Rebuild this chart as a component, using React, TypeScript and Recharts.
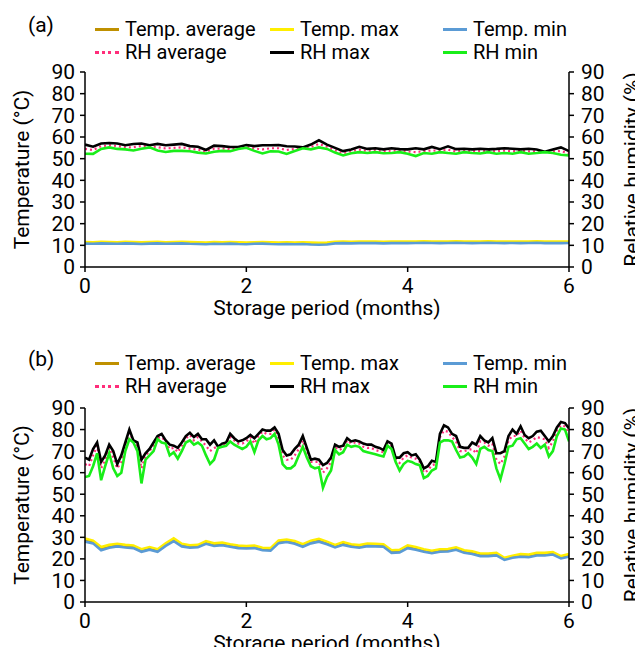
import React from 'react';
import { LineChart, Line, XAxis, YAxis } from 'recharts';

// ---------- Panel (a) : one reading every 0.1 month ----------
const tempAvgA = [11.1,11,11.2,11.1,11,11.2,11.1,11,11.1,11.2, 11,11.1,11.2,11.1,11,10.9,11.1,11,11.1,11, 10.9,11,11.1,11,10.9,11,10.9,11,10.8,10.7, 10.8,11.2,11.3,11.2,11.3,11.4,11.3,11.2,11.3,11.4, 11.3,11.4,11.5,11.4,11.3,11.4,11.5,11.4,11.3,11.4, 11.5,11.4,11.3,11.4,11.3,11.4,11.5,11.3,11.4,11.3, 11.4];
const tempMaxA = [11.5,11.4,11.6,11.5,11.4,11.6,11.5,11.4,11.5,11.6, 11.4,11.5,11.6,11.5,11.4,11.3,11.5,11.4,11.5,11.4, 11.3,11.4,11.5,11.4,11.3,11.4,11.3,11.4,11.3,11.2, 11.3,11.6,11.7,11.6,11.7,11.8,11.7,11.6,11.7,11.8, 11.7,11.8,11.9,11.8,11.7,11.8,11.9,11.8,11.7,11.8, 11.9,11.8,11.7,11.8,11.7,11.8,11.9,11.7,11.8,11.7, 11.8];
const tempMinA = [10.8,10.7,10.9,10.8,10.7,10.9,10.8,10.6,10.8,10.9, 10.7,10.8,10.9,10.7,10.6,10.5,10.7,10.6,10.8,10.6, 10.5,10.7,10.8,10.6,10.5,10.6,10.5,10.6,10.4,10.3, 10.4,10.9,11,10.9,11,11.1,11,10.9,11,11.1, 11,11.1,11.2,11.1,11,11.1,11.2,11.1,11,11.1, 11.2,11.1,11,11.1,11,11.1,11.2,11,11.1,11, 11.1];
const rhAvgA = [54.5,54,55.8,56.2,55.8,55.2,55.3,55.8,55.7,55.3, 54.7,55,55.2,54.6,54.2,53.2,54.6,54.7,54.4,55, 55.6,54.7,54.3,54.8,54.8,54,54.5,55,55.4,56.8, 55.5,53.9,52.5,53.4,54.2,53.5,53.9,53.4,53.7,53.7, 53.3,53,53.5,53.8,53.7,54.1,53.3,53.8,53.4,53.5, 53.6,53.4,53.7,53.4,53.6,53.4,53.4,53.1,53.4,53.5, 52.5];
const rhMaxA = [56.5,55.5,57,57.2,57,56.2,56.8,57,56.2,56.8, 56.2,56.5,56.8,55.8,55.5,54,56,55.8,55.4,55.4, 56.3,55.8,56.2,56.2,56.3,55.7,55.6,55.2,56.5,58.5, 56.5,55,53.5,54.2,55.5,54.5,54.8,54.3,54.8,54.4, 54.3,54.8,54.3,55.4,54.4,55.7,54.4,54.6,54.3,54.6, 54.3,54.5,54.8,54.6,54.3,54.6,54.2,53.2,54.2,55.2, 53.5];
const rhMinA = [52.3,52.2,54.5,55.2,54.5,54.3,53.8,54.6,55.2,53.8, 53.1,53.6,53.6,53.4,52.8,52.4,53.2,53.6,53.4,54.5, 55,53.6,52.4,53.4,53.3,52.2,53.5,54.8,54.3,55.2, 54.5,52.8,51.5,52.5,53,52.6,53,52.5,52.6,53, 52.3,51.2,52.6,52.3,53,52.6,52.3,53,52.6,52.4, 53,52.3,52.6,52.3,53,52.3,52.6,53,52.6,51.8, 51.5];

// ---------- Panel (b) : temperature every 0.1 month, RH every 0.05 month ----------
const tempAvgB = [28.8,27.9,24.8,25.9,26.4,25.9,25.6,23.9,24.9,23.9, 26.6,28.9,26.4,25.8,26,27.6,26.6,27,26.2,25.6, 25.4,25.6,24.6,24.4,27.9,28.4,27.7,26.2,27.8,28.7, 27.4,25.9,27.2,26.2,25.8,26.5,26.4,26.2,23.4,23.6, 25.7,24.9,23.9,23.2,23.9,24,24.8,23.4,22.9,21.9, 21.9,22.2,20,21,21.6,21.4,22.2,22.2,22.6,20.8, 21.7];
const tempMaxB = [29.5,28.5,25.5,26.5,27,26.5,26.2,24.5,25.5,24.5, 27.2,29.5,27,26.3,26.5,28.2,27.2,27.6,26.8,26.2, 26,26.2,25.2,25,28.5,29,28.3,26.8,28.4,29.3, 28,26.5,27.8,26.8,26.4,27.1,27,26.8,24,24.2, 26.3,25.5,24.5,23.8,24.5,24.6,25.4,24,23.5,22.5, 22.5,22.8,20.5,21.5,22.2,22,22.8,22.8,23.2,21.3, 22.3];
const tempMinB = [28,27.2,24,25.2,25.8,25.3,25,23.3,24.3,23.3, 26,28.2,25.8,25.2,25.4,27,26,26.3,25.6,25, 24.8,25,24,23.8,27.3,27.8,27,25.6,27.2,28, 26.8,25.3,26.5,25.6,25.2,25.9,25.8,25.6,22.8,23, 25,24.2,23.3,22.6,23.3,23.4,24.2,22.8,22.3,21.3, 21.3,21.6,19.5,20.5,21,20.8,21.6,21.6,22,20.2, 21];
const rhAvgB = [64,63,68,72.5,62,66,71.5,67,62,65, 72.5,78.5,75,72.5,62,68,70,72.5,76,76.5, 74.5,71,71.5,69.5,72.5,76,77.5,75,76.5,74.5, 72.5,70,71.5,72,73,73.5,76.5,75,73.5,73.5, 74.5,
  76.5,73.5,77,79,78,78,80,76,68,66, 66,68,71,75,70,65,65,65,60,62, 65,72,70.5,71.5,75,73.5,74,73.5,72,71.5, 71.5,70.5,70,69.5,73.5,72.5,66,64.5,67,68,
  67,66.5,65,60,61,63.5,64,76.5,79.5,79, 76.5,74.5,70,70,70.5,71,69,74.5,74,72.5, 73.5,66,64,67.5,75,77,77,79.5,76,74, 75,76.5,76,75.5,71.5,74.5,79.5,82,81.5,78];
const rhMaxB = [67,66,71,74,65,68,73,70,64,68, 74,80,75,74,66,69,71,74,77,78, 75,73,72.5,71.5,74,77,78.5,76.5,78,75.5, 75.5,73,75,72,73.5,74,78,76,74.5,75, 76,
  77.5,76,78,80,79.5,79.5,81,78,70.5,68, 68.5,71,73,77,71.5,66,66.5,66,63.5,64.5, 67,73,72,72.5,76,74.5,75,74.5,73.5,73, 73,72,71.5,70.5,74.5,73.5,67,67,69,69.5,
  68,68.5,66,62,63,65.5,65,78,82,81, 78,77,72,71.5,71.5,74,73,77,75,74, 76,69,69,70,77,80,78,81.5,77.5,76, 77,79,79.5,77,74.5,77,81,83.5,83,80.5];
const rhMinB = [58,58.5,63,69,56.5,63,69,62,58.5,60, 70,75.5,74,70,55,66,68,70,75.5,74, 73.5,68,69.5,66.5,70,74,75,73,74,72.5, 68,64,66,71.5,72,72.5,74.5,73,72,71, 72,
  74.5,69.5,75,77,75.5,76,78,73,64,62, 62,63.5,68,72,67,63,62,62.5,53,58, 61,70.5,68.5,69.5,73,72,72.5,72,70,69.5, 69,68.5,68,67.5,72.5,71,65,61,64,65.5,
  65,64,63.5,57.5,58.5,61,62,74,75,75, 74.5,70.5,67,67.5,69,67,64,71,72,70.5, 70,62,57,64,72,72.5,75.5,76,73.5,71, 72,73.5,71.5,73,67.5,70,77,80.5,80,74.5];

const xTicks = [0, 2, 4, 6];
const yTicks = [0, 10, 20, 30, 40, 50, 60, 70, 80, 90];

const COLORS = {
  tempAvg: '#bf9000',
  tempMax: '#ffee00',
  tempMin: '#5b9bd5',
  rhAvg: '#ff2d7a',
  rhMax: '#000000',
  rhMin: '#19ee19',
};

const rowsA = tempAvgA.map((_, i) => ({
  m: i / 10,
  tempAvg: tempAvgA[i], tempMax: tempMaxA[i], tempMin: tempMinA[i],
  rhAvg: rhAvgA[i], rhMax: rhMaxA[i], rhMin: rhMinA[i],
}));

const rowsB = rhMaxB.map((_, i) => ({
  m: i / 20,
  tempAvg: i % 2 === 0 ? tempAvgB[i / 2] : null,
  tempMax: i % 2 === 0 ? tempMaxB[i / 2] : null,
  tempMin: i % 2 === 0 ? tempMinB[i / 2] : null,
  rhAvg: rhAvgB[i], rhMax: rhMaxB[i], rhMin: rhMinB[i],
}));

const FONT = 'Roboto, sans-serif';
const tickStyle = { fill: '#000', fontSize: 21, fontFamily: FONT };
const axisLine = { stroke: '#000', strokeWidth: 1.5 };

const legendItems = [
  { label: 'Temp. average', color: COLORS.tempAvg, x: 95, row: 0 },
  { label: 'Temp. max', color: COLORS.tempMax, x: 270, row: 0 },
  { label: 'Temp. min', color: COLORS.tempMin, x: 443, row: 0 },
  { label: 'RH average', color: COLORS.rhAvg, x: 95, row: 1, dotted: true },
  { label: 'RH max', color: COLORS.rhMax, x: 270, row: 1 },
  { label: 'RH min', color: COLORS.rhMin, x: 443, row: 1 },
];

function RightTitle(props: any) {
  const vb = props.viewBox || {};
  const cy = (vb.y || 0) + (vb.height || 0) / 2;
  const cx = 632;
  return (
    <text x={cx} y={cy} transform={`rotate(-90, ${cx}, ${cy})`} textAnchor="middle" dominantBaseline="central"
      fill="#000" fontSize={21} fontFamily={FONT}>Relative humidity (%)</text>
  );
}

function Panel({ top, height, marginTop, marginBottom, rows, tag }: any) {
  return (
    <div style={{ position: 'absolute', left: 0, top, width: 643, height }}>
      <div style={{ position: 'absolute', left: 28, top: 12, fontSize: 21, fontFamily: FONT, lineHeight: '26px' }}>{tag}</div>
      {legendItems.map((it) => (
        <div key={it.label} style={{ position: 'absolute', left: it.x, top: 29 + it.row * 23 - 12, height: 24, display: 'flex', alignItems: 'center', fontSize: 20, fontFamily: FONT, whiteSpace: 'nowrap' }}>
          <div style={{ width: 24, height: 0, borderTop: it.dotted ? `3px dotted ${it.color}` : `3px solid ${it.color}`, marginRight: 6 }} />
          <span>{it.label}</span>
        </div>
      ))}
      <div style={{ position: 'absolute', left: 0, top: 0 }}>
        <LineChart width={643} height={height} data={rows} margin={{ top: marginTop, right: 0, bottom: marginBottom, left: 0 }}>
          <XAxis dataKey="m" type="number" domain={[0, 6]} ticks={xTicks} tickSize={5} tickMargin={6} height={50}
            axisLine={axisLine} tickLine={axisLine} tick={tickStyle} allowDataOverflow
            label={{ value: 'Storage period (months)', position: 'insideBottom', offset: 2, fill: '#000', fontSize: 21, fontFamily: FONT }} />
          <YAxis yAxisId="t" orientation="left" domain={[0, 90]} ticks={yTicks} width={85} tickSize={5} tickMargin={5}
            axisLine={axisLine} tickLine={axisLine} tick={tickStyle} interval={0}
            label={{ value: 'Temperature (°C)', angle: -90, position: 'insideLeft', offset: 22, fill: '#000', fontSize: 21, fontFamily: FONT, style: { textAnchor: 'middle' } }} />
          <YAxis yAxisId="rh" orientation="right" domain={[0, 90]} ticks={yTicks} width={74} tickSize={5} tickMargin={7}
            axisLine={axisLine} tickLine={axisLine} tick={tickStyle} interval={0}
            label={<RightTitle />} />
          <Line yAxisId="t" dataKey="tempAvg" stroke={COLORS.tempAvg} strokeWidth={2.6} dot={false} isAnimationActive={false} connectNulls />
          <Line yAxisId="t" dataKey="tempMax" stroke={COLORS.tempMax} strokeWidth={2.6} dot={false} isAnimationActive={false} connectNulls />
          <Line yAxisId="t" dataKey="tempMin" stroke={COLORS.tempMin} strokeWidth={2.6} dot={false} isAnimationActive={false} connectNulls />
          <Line yAxisId="rh" dataKey="rhAvg" stroke={COLORS.rhAvg} strokeWidth={2.2} strokeDasharray="2 3" dot={false} isAnimationActive={false} />
          <Line yAxisId="rh" dataKey="rhMax" stroke={COLORS.rhMax} strokeWidth={2.6} dot={false} isAnimationActive={false} />
          <Line yAxisId="rh" dataKey="rhMin" stroke={COLORS.rhMin} strokeWidth={2.6} dot={false} isAnimationActive={false} />
        </LineChart>
      </div>
    </div>
  );
}

export default function App() {
  return (
    <div style={{ position: 'relative', width: 643, height: 655, margin: -8, background: '#fff', fontFamily: FONT, overflow: 'hidden' }}>
      <Panel top={0} height={334} marginTop={72} marginBottom={17} rows={rowsA} tag="(a)" />
      <Panel top={334} height={321} marginTop={74} marginBottom={3} rows={rowsB} tag="(b)" />
    </div>
  );
}
